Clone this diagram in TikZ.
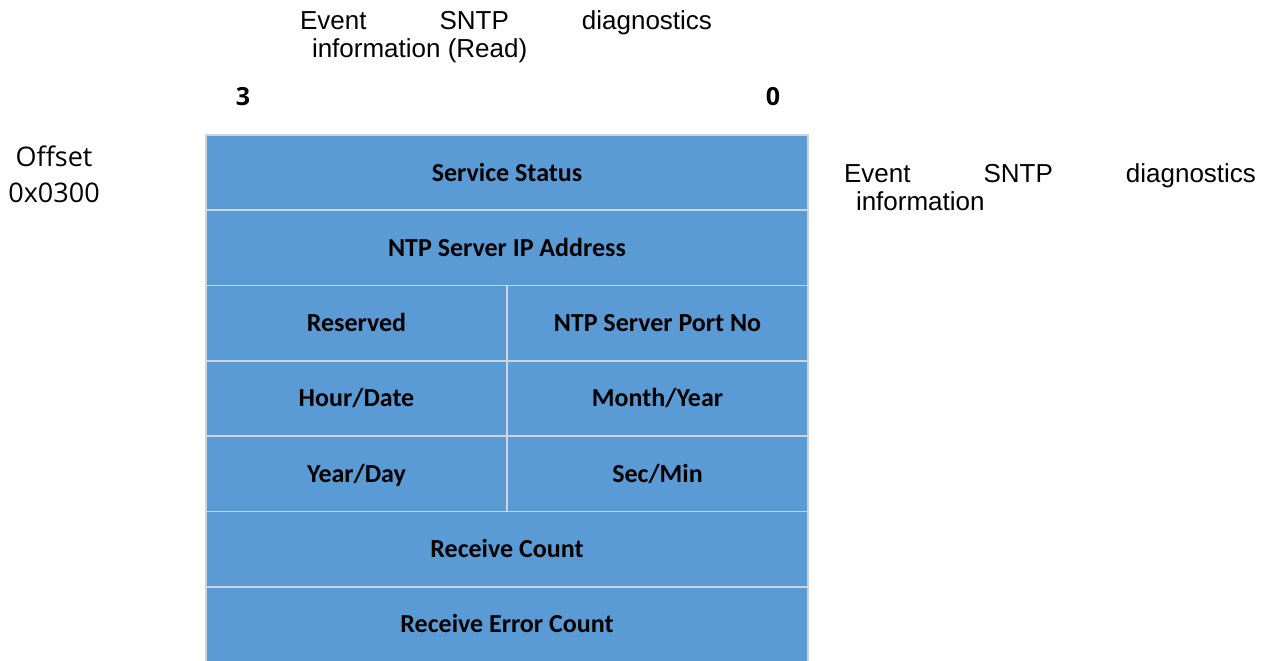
\documentclass[tikz,border=0pt]{standalone}
\usepackage{fontspec}
\usepackage{xcolor}
\usepackage{tikz}
\setmainfont{Liberation Sans}
\newfontfamily\cellfont{Carlito}
\newfontfamily\sidefont{Open Sans}
\definecolor{sntpblue}{RGB}{91,155,213}
\definecolor{sntpgrid}{RGB}{205,212,222}

\begin{document}
\begin{tikzpicture}[x=0.5pt,y=-0.5pt,
  cell/.style={draw=sntpgrid,line width=0.9pt,fill=sntpblue,inner sep=0pt,
    minimum width=301pt,minimum height=37.65pt,text height=10pt,text depth=1.6pt,
    font=\cellfont\bfseries\fontsize{13}{15}\selectfont},
  halfcell/.style={cell,minimum width=150.5pt},
  note/.style={text width=206pt,align=justify,inner sep=0pt,
    font=\fontsize{13}{14}\selectfont}]
  \useasboundingbox (0,0) rectangle (1270,660);
  % full width words
  \foreach \name/\y/\txt in {status/172.6/Service Status,ntpip/248/NTP Server IP Address,
      rxcount/549.1/Receive Count,rxerr/624.4/Receive Error Count}
    \node[cell](\name) at (507,\y) {\txt};
  % split words
  \foreach \name/\y/\lcell/\rcell in {port/323.2/Reserved/NTP Server Port No,
      date/398.5/{Hour/Date}/{Month/Year},time/473.8/{Year/Day}/{Sec/Min}}{
    \node[halfcell](\name l) at (356.5,\y) {\lcell};
    \node[halfcell](\name r) at (657.5,\y) {\rcell};
  }
  \node[note](title) at (506,37) {Event\hfill SNTP\hfill diagnostics\\\hspace*{6pt}information (Read)};
  \node[font=\sidefont\bfseries\fontsize{12.5}{15}\selectfont](msb) at (243,97) {3};
  \node[font=\sidefont\bfseries\fontsize{12.5}{15}\selectfont](lsb) at (773,97) {0};
  \node[font=\sidefont\fontsize{13.5}{18}\selectfont,align=center](offset) at (54,174) {Offset\\0x0300};
  \node[note](side) at (1050,187) {Event\hfill SNTP\hfill diagnostics\\\hspace*{6pt}information};
\end{tikzpicture}
\end{document}
